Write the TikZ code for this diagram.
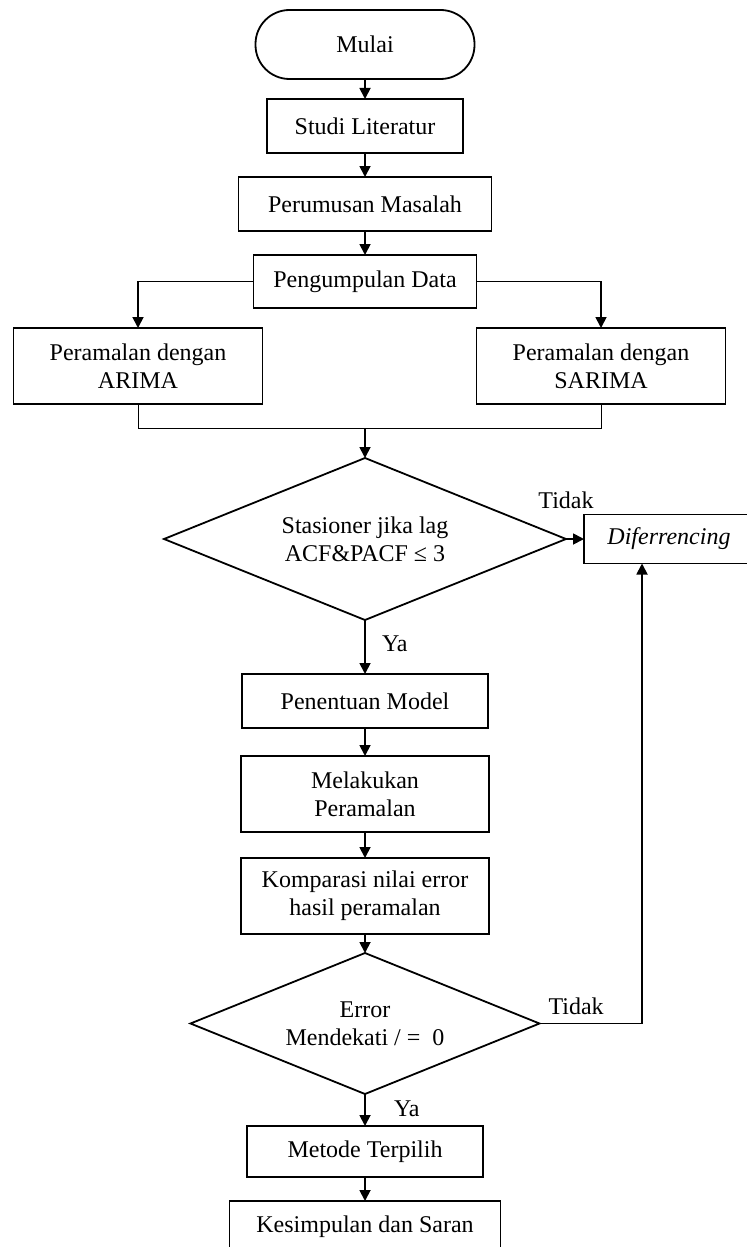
\documentclass[tikz,border=0pt]{standalone}
\usepackage{fontspec}
\setmainfont{Liberation Serif}
\usetikzlibrary{positioning}
\usetikzlibrary{shapes.geometric,arrows.meta}

\tikzset{
	teks/.style={font=\fontsize{12}{14}\selectfont, align=center},
	proses/.style={teks, draw, line width=0.9pt, inner sep=2pt, outer sep=0pt},
	terminal/.style={proses, rounded corners=17pt},
	keputusan/.style={teks, draw, line width=0.9pt, shape=diamond, aspect=2.5, inner sep=0pt, outer sep=0pt},
	ket/.style={teks, inner sep=0pt, outer sep=0pt}
}

\begin{document}
\begin{tikzpicture}[x=0.5pt, y=-0.5pt, line width=0.9pt, >={Triangle[length=5.5pt,width=5.5pt]}]
		\useasboundingbox (0,0) rectangle (747,1247);
		
		\node (mulai) [terminal, minimum width=109.5pt, minimum height=34.5pt] at (365,44.5) {Mulai};
		\node (studi) [proses, minimum width=98pt, minimum height=27pt, below = 10pt of mulai] {Studi Literatur};
		\node (rumus) [proses, minimum width=126.5pt, minimum height=27pt, below = 12pt of studi] {Perumusan Masalah};
		\node (kumpul) [proses, minimum width=111.5pt, minimum height=26.5pt, below = 12pt of rumus] {Pengumpulan Data};
		
		%cabang peramalan
		\node (arima) [proses, minimum width=124.5pt, minimum height=38pt] at (138,366) {Peramalan dengan\\ARIMA};
		\node (sarima) [proses, minimum width=124.5pt, minimum height=38pt] at (601,366) {Peramalan dengan\\SARIMA};
		
		\draw[->] (studi.north |- mulai.south) -- (studi);
		\draw[->] (studi) -- (rumus);
		\draw[->] (rumus) -- (kumpul);
		\draw[->] (kumpul.west) -| (arima.north);
		\draw[->] (kumpul.east) -| (sarima.north);
		
		%gabung
		\coordinate [below = 12pt of arima.south] (m1);
		\coordinate [below = 12pt of sarima.south] (m2);
		\coordinate (mid) at (m1 -| kumpul.south);
		\draw[line width=0.5pt] (arima.south) -- (m1) -- (m2) -- (sarima.south);
		
		%uji stasioner
		\node (cek1) [keputusan, minimum width=201pt, minimum height=81pt, below = 15pt of mid] {Stasioner jika lag\\ACF\&PACF ≤ 3};
		\node (dif) [proses, minimum width=88pt, minimum height=24.5pt, right = 9pt of cek1] {\hspace*{-3pt}\itshape Diferrencing};
		\draw[->] (mid) -- (cek1);
		\draw[->] (cek1) -- (dif);
		\node (tdk1) [ket, above = 15pt of cek1.east] {Tidak};
		
		\node (model) [proses, minimum width=123pt, minimum height=27pt, below = 27pt of cek1] {Penentuan Model};
		\node (ramal) [proses, minimum width=124pt, minimum height=38pt, below = 14pt of model] {Melakukan\\Peramalan};
		\node (banding) [proses, minimum width=124pt, minimum height=38pt, below = 13pt of ramal] {Komparasi nilai error\\hasil peramalan};
		\draw[->] (cek1) -- (model);
		\node (ya1) [ket, below right = 8pt and 8.5pt of cek1.south] {Ya};
		\draw[->] (model) -- (ramal);
		\draw[->] (ramal) -- (banding);
		
		%uji error
		\node (cek2) [keputusan, minimum width=174.5pt, minimum height=70.5pt, below = 9.5pt of banding] {Error\\Mendekati / =\ \ 0};
		\draw[->] (banding) -- (cek2);
		\draw[->] (cek2.east) -| ([xshift=29pt]dif.south west);
		\node (tdk2) [ket, above right = 4.5pt and 4.5pt of cek2.east] {Tidak};
		
		\node (pilih) [proses, minimum width=118pt, minimum height=25.5pt, below = 16pt of cek2] {Metode Terpilih};
		\node (simpul) [proses, minimum width=135.5pt, minimum height=26pt, below = 12pt of pilih] {Kesimpulan dan Saran};
		\draw[->] (cek2) -- (pilih);
		\node (ya2) [ket, below right = 3.5pt and 14.5pt of cek2.south] {Ya};
		\draw[->] (pilih) -- (simpul);
\end{tikzpicture}
\end{document}
